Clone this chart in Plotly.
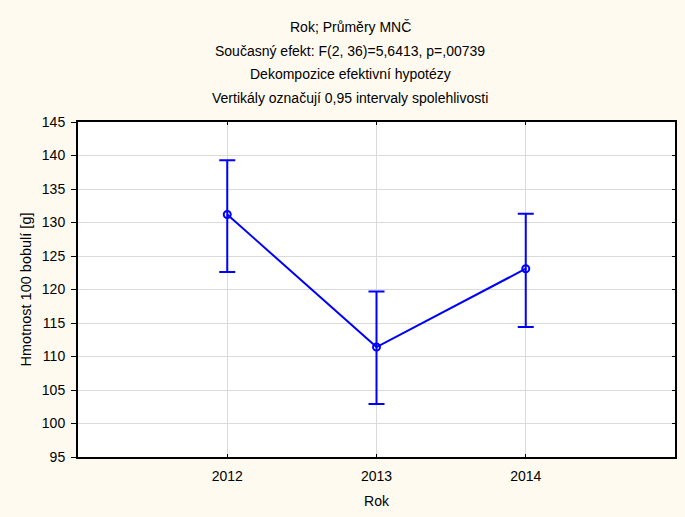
import plotly.graph_objects as go

# Least-squares means of 100-berry weight per year with 95% confidence limits
years = ["2012", "2013", "2014"]
means = [131.2, 111.4, 123.1]
upper = [139.3, 119.7, 131.3]
lower = [122.6, 102.9, 114.4]

title_lines = [
    "Rok; Průměry MNČ",
    "Současný efekt: F(2, 36)=5,6413, p=,00739",
    "Dekompozice efektivní hypotézy",
    "Vertikály označují 0,95 intervaly spolehlivosti",
]
y_ticks = list(range(95, 146, 5))

x_pos = [1, 2, 3]
err_plus = [u - m for u, m in zip(upper, means)]
err_minus = [m - l for m, l in zip(means, lower)]

BLUE = "#0000FF"
FONT = "Liberation Sans, Arial, sans-serif"

fig = go.Figure(
    go.Scatter(
        x=x_pos,
        y=means,
        mode="lines+markers",
        line=dict(color=BLUE, width=2),
        marker=dict(symbol="circle-open", size=7, color=BLUE, line=dict(width=2, color=BLUE)),
        error_y=dict(
            type="data",
            symmetric=False,
            array=err_plus,
            arrayminus=err_minus,
            color=BLUE,
            thickness=2,
            width=8,
        ),
        showlegend=False,
    )
)
# invisible trace that carries the right-hand axis with inward ticks
fig.add_trace(
    go.Scatter(x=[x_pos[0]], y=[means[0]], yaxis="y2", mode="markers",
               marker=dict(opacity=0), showlegend=False, hoverinfo="skip")
)

W, H = 685, 517
ml, mr, mt, mb = 78, 8, 122, 60
plot_h = H - mt - mb
plot_w = W - ml - mr

annotations = []
for i, line in enumerate(title_lines):
    py = 27 + i * 23.7
    annotations.append(
        dict(
            text=line,
            xref="paper",
            yref="paper",
            x=(351 - ml) / plot_w,
            y=(H - mb - py) / plot_h,
            xanchor="center",
            yanchor="middle",
            showarrow=False,
            font=dict(size=14, color="#000000", family=FONT),
        )
    )

fig.update_layout(
    width=W,
    height=H,
    margin=dict(l=ml, r=mr, t=mt, b=mb),
    paper_bgcolor="#FFFAF0",
    plot_bgcolor="#FFFFFF",
    font=dict(family=FONT, size=14, color="#000000"),
    annotations=annotations,
    xaxis=dict(
        range=[0, 4],
        tickvals=x_pos,
        ticktext=years,
        showgrid=True,
        gridcolor="#DADADA",
        gridwidth=1,
        zeroline=False,
        showline=True,
        linecolor="#000000",
        linewidth=2,
        mirror="ticks",
        ticks="inside",
        ticklen=3,
        tickcolor="#000000",
        ticklabelstandoff=5,
        tickfont=dict(size=14),
        title=dict(text="Rok", standoff=13, font=dict(size=14)),
        fixedrange=True,
    ),
    yaxis=dict(
        range=[95, 145],
        tickvals=y_ticks,
        showgrid=True,
        gridcolor="#DADADA",
        gridwidth=1,
        zeroline=False,
        showline=True,
        linecolor="#000000",
        linewidth=2,
        mirror=True,
        ticks="outside",
        ticklen=5,
        tickcolor="#000000",
        ticklabelstandoff=3,
        tickfont=dict(size=14),
        title=dict(text="Hmotnost 100 bobulí [g]", standoff=7, font=dict(size=14.5)),
        fixedrange=True,
    ),
    yaxis2=dict(
        overlaying="y",
        side="right",
        range=[95, 145],
        tickvals=y_ticks,
        showgrid=False,
        zeroline=False,
        showline=False,
        ticks="inside",
        ticklen=3,
        tickcolor="#000000",
        showticklabels=False,
        fixedrange=True,
    ),
)

fig.write_html("out.html")
